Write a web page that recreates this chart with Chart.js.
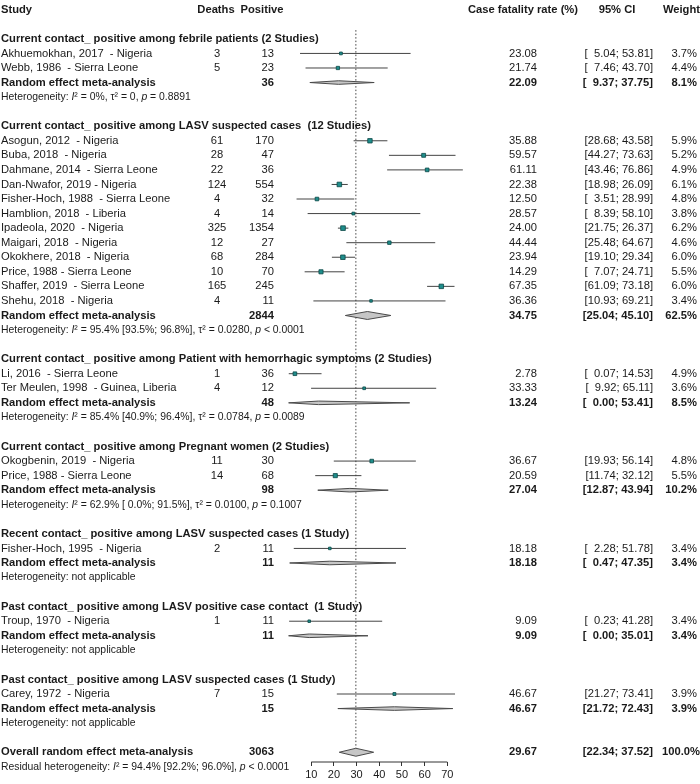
<!DOCTYPE html>
<html>
<head>
<meta charset="utf-8">
<script src="https://cdn.jsdelivr.net/npm/chart.js@4.4.1/dist/chart.umd.min.js"></script>
<style>
  html, body { margin: 0; padding: 0; background: #fff; }
</style>
</head>
<body>
<canvas id="forestChart" width="700" height="784"></canvas>
<script>
// Subgroups of the forest plot
const groupTitles = [
    'Current contact_ positive among febrile patients (2 Studies)',
    'Current contact_ positive among LASV suspected cases  (12 Studies)',
    'Current contact_ positive among Patient with hemorrhagic symptoms (2 Studies)',
    'Current contact_ positive among Pregnant women (2 Studies)',
    'Recent contact_ positive among LASV suspected cases (1 Study)',
    'Past contact_ positive among LASV positive case contact  (1 Study)',
    'Past contact_ positive among LASV suspected cases (1 Study)'
];
// "_" toggles italic
const groupHeterogeneity = [
    'Heterogeneity: _I_\u00b2 = 0%, \u03c4\u00b2 = 0, _p_ = 0.8891',
    'Heterogeneity: _I_\u00b2 = 95.4% [93.5%; 96.8%], \u03c4\u00b2 = 0.0280, _p_ < 0.0001',
    'Heterogeneity: _I_\u00b2 = 85.4% [40.9%; 96.4%], \u03c4\u00b2 = 0.0784, _p_ = 0.0089',
    'Heterogeneity: _I_\u00b2 = 62.9% [ 0.0%; 91.5%], \u03c4\u00b2 = 0.0100, _p_ = 0.1007',
    'Heterogeneity: not applicable',
    'Heterogeneity: not applicable',
    'Heterogeneity: not applicable'
];

// Individual studies
const studyNames = [
    'Akhuemokhan, 2017  - Nigeria', 'Webb, 1986  - Sierra Leone',
    'Asogun, 2012  - Nigeria', 'Buba, 2018  - Nigeria', 'Dahmane, 2014  - Sierra Leone',
    'Dan-Nwafor, 2019 - Nigeria', 'Fisher-Hoch, 1988  - Sierra Leone', 'Hamblion, 2018  - Liberia',
    'Ipadeola, 2020  - Nigeria', 'Maigari, 2018  - Nigeria', 'Okokhere, 2018  - Nigeria',
    'Price, 1988 - Sierra Leone', 'Shaffer, 2019  - Sierra Leone', 'Shehu, 2018  - Nigeria',
    'Li, 2016  - Sierra Leone', 'Ter Meulen, 1998  - Guinea, Liberia',
    'Okogbenin, 2019  - Nigeria', 'Price, 1988 - Sierra Leone',
    'Fisher-Hoch, 1995  - Nigeria',
    'Troup, 1970  - Nigeria',
    'Carey, 1972  - Nigeria'
];
const studyGroup = [0, 0, 1, 1, 1, 1, 1, 1, 1, 1, 1, 1, 1, 1, 2, 2, 3, 3, 4, 5, 6];
const deaths    = [3, 5, 61, 28, 22, 124, 4, 4, 325, 12, 68, 10, 165, 4, 1, 4, 11, 14, 2, 1, 7];
const positives = [13, 23, 170, 47, 36, 554, 32, 14, 1354, 27, 284, 70, 245, 11, 36, 12, 30, 68, 11, 11, 15];
const cfr       = [23.08, 21.74, 35.88, 59.57, 61.11, 22.38, 12.50, 28.57, 24.00, 44.44, 23.94, 14.29, 67.35, 36.36, 2.78, 33.33, 36.67, 20.59, 18.18, 9.09, 46.67];
const ciLow     = [5.04, 7.46, 28.68, 44.27, 43.46, 18.98, 3.51, 8.39, 21.75, 25.48, 19.10, 7.07, 61.09, 10.93, 0.07, 9.92, 19.93, 11.74, 2.28, 0.23, 21.27];
const ciHigh    = [53.81, 43.70, 43.58, 73.63, 76.86, 26.09, 28.99, 58.10, 26.37, 64.67, 29.34, 24.71, 73.18, 69.21, 14.53, 65.11, 56.14, 32.12, 51.78, 41.28, 73.41];
const weights   = [3.7, 4.4, 5.9, 5.2, 4.9, 6.1, 4.8, 3.8, 6.2, 4.6, 6.0, 5.5, 6.0, 3.4, 4.9, 3.6, 4.8, 5.5, 3.4, 3.4, 3.9];

// Random effect pooled estimates per subgroup
const pooledPositive = [36, 2844, 48, 98, 11, 11, 15];
const pooledCfr      = [22.09, 34.75, 13.24, 27.04, 18.18, 9.09, 46.67];
const pooledLow      = [9.37, 25.04, 0.00, 12.87, 0.47, 0.00, 21.72];
const pooledHigh     = [37.75, 45.10, 53.41, 43.94, 47.35, 35.01, 72.43];
const pooledWeight   = [8.1, 62.5, 8.5, 10.2, 3.4, 3.4, 3.9];

// Overall
const overallLabel = 'Overall random effect meta-analysis';
const overallPositive = 3063;
const overallCfr = 29.67;
const overallLow = 22.34;
const overallHigh = 37.52;
const overallWeight = 100.0;
const residualHeterogeneity = 'Residual heterogeneity: _I_\u00b2 = 94.4% [92.2%; 96.0%], _p_ < 0.0001';

const columnHeaders = ['Study', 'Deaths', 'Positive', 'Case fatality rate (%)', '95% CI', 'Weight'];
const xTicks = [10, 20, 30, 40, 50, 60, 70];

const FONT = '"Liberation Sans", Arial, Helvetica, sans-serif';
const TEXT = '#1a1a1a';
const ROW_PX = 14.65;

// Build the row layout (one entry per text line)
const rows = [{ type: 'header' }];
let studyIndex = 0;
groupTitles.forEach((title, g) => {
    rows.push({ type: 'blank' });
    rows.push({ type: 'title', g: g });
    while (studyIndex < studyGroup.length && studyGroup[studyIndex] === g) {
        rows.push({ type: 'study', s: studyIndex });
        studyIndex++;
    }
    rows.push({ type: 'pooled', g: g });
    rows.push({ type: 'het', g: g });
});
rows.push({ type: 'blank' });
rows.push({ type: 'overall' });
rows.push({ type: 'residual' });

const studyRow = [];
const pooledRow = [];
let overallRow = 0;
rows.forEach((r, i) => {
    if (r.type === 'study') studyRow[r.s] = i;
    if (r.type === 'pooled') pooledRow[r.g] = i;
    if (r.type === 'overall') overallRow = i;
});

// CI segments, broken by gaps
const ciSegments = [];
cfr.forEach((v, i) => {
    ciSegments.push({ x: ciLow[i], y: studyRow[i] });
    ciSegments.push({ x: ciHigh[i], y: studyRow[i] });
    ciSegments.push({ x: null, y: null });
});

// Study squares, size by weight
const squares = cfr.map((v, i) => ({ x: v, y: studyRow[i] }));
const squareRadius = weights.map(w => (0.75 * w) / Math.SQRT2);

function diamond(lo, est, hi, row, w) {
    const h = (w >= 50 ? 4 : 1.8) / ROW_PX;
    return {
        data: [
            { x: lo, y: row }, { x: est, y: row - h }, { x: hi, y: row },
            { x: est, y: row + h }, { x: lo, y: row }
        ],
        showLine: true,
        fill: 'shape',
        backgroundColor: '#c6c6c6',
        borderColor: '#4a4a4a',
        borderWidth: 1,
        pointRadius: 0,
        clip: false
    };
}

const diamonds = pooledCfr.map((v, g) => diamond(pooledLow[g], v, pooledHigh[g], pooledRow[g], pooledWeight[g]));
diamonds.push(diamond(overallLow, overallCfr, overallHigh, overallRow, overallWeight));

const yMin = -0.34;
const yMax = 51.67;

function ci(lo, hi) {
    const f = v => (v < 10 ? '\u2007' : '') + v.toFixed(2);
    return '[' + f(lo) + '; ' + f(hi) + ']';
}

function drawRich(ctx, str, x, y, size, bold) {
    const parts = str.split('_');
    let cx = x;
    ctx.textAlign = 'left';
    parts.forEach((p, i) => {
        ctx.font = (i % 2 ? 'italic ' : '') + (bold ? 'bold ' : '') + size + 'px ' + FONT;
        ctx.fillText(p, cx, y);
        cx += ctx.measureText(p).width;
    });
}

function cell(ctx, str, x, y, align, bold, size) {
    ctx.font = (bold ? 'bold ' : '') + (size || 11.2) + 'px ' + FONT;
    ctx.textAlign = align;
    ctx.fillText(str, x, y);
}

const tablePlugin = {
    id: 'forestTable',
    afterDraw(chart) {
        const ctx = chart.ctx;
        const yScale = chart.scales.y;
        ctx.save();
        ctx.fillStyle = TEXT;
        ctx.textBaseline = 'middle';
        rows.forEach((r, i) => {
            const y = yScale.getPixelForValue(i);
            if (r.type === 'header') {
                cell(ctx, columnHeaders[0], 1, y, 'left', true);
                cell(ctx, columnHeaders[1], 216, y, 'center', true);
                cell(ctx, columnHeaders[2], 262, y, 'center', true);
                cell(ctx, columnHeaders[3], 523, y, 'center', true);
                cell(ctx, columnHeaders[4], 617, y, 'center', true);
                cell(ctx, columnHeaders[5], 700, y, 'right', true);
            } else if (r.type === 'title') {
                cell(ctx, groupTitles[r.g], 1, y, 'left', true);
            } else if (r.type === 'study') {
                const s = r.s;
                cell(ctx, studyNames[s], 1, y, 'left', false);
                cell(ctx, String(deaths[s]), 217, y, 'center', false);
                cell(ctx, String(positives[s]), 274, y, 'right', false);
                cell(ctx, cfr[s].toFixed(2), 537, y, 'right', false);
                cell(ctx, ci(ciLow[s], ciHigh[s]), 653, y, 'right', false);
                cell(ctx, weights[s].toFixed(1) + '%', 697, y, 'right', false);
            } else if (r.type === 'pooled') {
                const g = r.g;
                cell(ctx, 'Random effect meta-analysis', 1, y, 'left', true);
                cell(ctx, String(pooledPositive[g]), 274, y, 'right', true);
                cell(ctx, pooledCfr[g].toFixed(2), 537, y, 'right', true);
                cell(ctx, ci(pooledLow[g], pooledHigh[g]), 653, y, 'right', true);
                cell(ctx, pooledWeight[g].toFixed(1) + '%', 697, y, 'right', true);
            } else if (r.type === 'het') {
                drawRich(ctx, groupHeterogeneity[r.g], 1, y, 10.4, false);
            } else if (r.type === 'overall') {
                cell(ctx, overallLabel, 1, y, 'left', true);
                cell(ctx, String(overallPositive), 274, y, 'right', true);
                cell(ctx, overallCfr.toFixed(2), 537, y, 'right', true);
                cell(ctx, ci(overallLow, overallHigh), 653, y, 'right', true);
                cell(ctx, overallWeight.toFixed(1) + '%', 700, y, 'right', true);
            } else if (r.type === 'residual') {
                drawRich(ctx, residualHeterogeneity, 1, y, 10.4, false);
            }
        });
        ctx.restore();
    }
};

const datasets = [
    {
        data: squares,
        pointStyle: 'rect',
        pointRadius: squareRadius,
        backgroundColor: '#1f8e8c',
        borderColor: '#0b4746',
        borderWidth: 0.8,
        clip: false
    },
    ...diamonds,
    {
        data: ciSegments,
        showLine: true,
        spanGaps: false,
        borderColor: '#444',
        borderWidth: 1,
        pointRadius: 0,
        clip: false
    },
    {
        // reference line at the overall estimate
        data: [{ x: overallCfr, y: 1.4 }, { x: overallCfr, y: overallRow - 0.3 }],
        showLine: true,
        borderColor: '#444',
        borderWidth: 1,
        borderDash: [1.5, 2],
        pointRadius: 0,
        clip: false
    },
    {
        // axis line between first and last tick
        data: [{ x: xTicks[0], y: yMax }, { x: xTicks[xTicks.length - 1], y: yMax }],
        showLine: true,
        borderColor: '#333',
        borderWidth: 1,
        pointRadius: 0,
        clip: false
    }
];

new Chart(document.getElementById('forestChart'), {
    type: 'scatter',
    data: { datasets: datasets },
    options: {
        responsive: false,
        animation: false,
        events: [],
        layout: { padding: { left: 254.6, right: 218.7, top: 0, bottom: 0.8 } },
        plugins: { legend: { display: false }, tooltip: { enabled: false } },
        scales: {
            x: {
                type: 'linear',
                min: -15,
                max: 85,
                afterBuildTicks: axis => { axis.ticks = xTicks.map(v => ({ value: v })); },
                border: { display: false },
                grid: { drawOnChartArea: false, drawTicks: true, tickLength: 4, color: '#333' },
                ticks: { padding: 2, color: TEXT, font: { family: FONT, size: 11 } }
            },
            y: {
                type: 'linear',
                display: false,
                reverse: true,
                min: yMin,
                max: yMax
            }
        }
    },
    plugins: [tablePlugin]
});
</script>
</body>
</html>
